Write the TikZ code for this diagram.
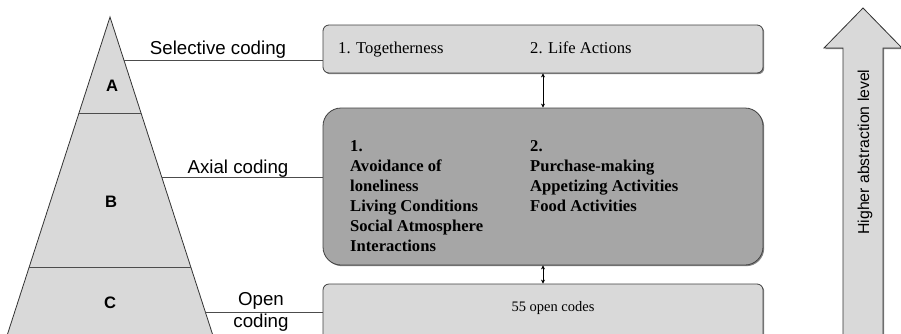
\documentclass[tikz,border=0pt]{standalone}
\usepackage{fontspec}
\setmainfont{Liberation Serif}
\setsansfont{Liberation Sans}
\usetikzlibrary{arrows.meta,shadows}

\begin{document}
\begin{tikzpicture}[x=1pt, y=-1pt,
    level/.style={font=\sffamily\fontsize{18.7}{22}\selectfont, inner sep=0pt},
    tier/.style={font=\sffamily\bfseries\fontsize{16.6}{20}\selectfont},
    codebox/.style={draw=black!75, line width=0.8pt, fill=black!15, minimum width=440pt,
      drop shadow={shadow xshift=1.2pt, shadow yshift=-1.2pt, fill=black!60, opacity=0.8}},
    item/.style={font=\fontsize{16.6}{20}\selectfont, inner sep=0pt},
    bolditem/.style={font=\bfseries\fontsize{16.6}{20}\selectfont, inner sep=0pt, align=left, anchor=north west},
    link/.style={black!70, line width=0.7pt},
    tip/.style={{Stealth[length=4pt, width=4pt]}-{Stealth[length=4pt, width=4pt]}, line width=0.6pt}]

  \useasboundingbox (0,0) rectangle (901,333);

  % pyramid
  \coordinate (top) at (110,17);
  \fill[black!15] (top) -- (4,345) -- (216,345) -- cycle;
  \draw[black!80, line width=0.8pt] (4,345) -- (top) -- (216,345);
  \draw[black!70, line width=0.7pt] (79,113) -- (141,113);
  \draw[black!70, line width=0.7pt] (29,267) -- (191,267);

  \node[tier] (tA) at (112,86)  {A};
  \node[tier] (tB) at (111,202) {B};
  \node[tier] (tC) at (110,303) {C};

  % boxes
  \node[codebox, rounded corners=6pt, minimum height=48pt] (selbox) at (543,49) {};
  \node[codebox, rounded corners=18pt, minimum height=157pt, fill=black!35] (axbox) at (543,186.5) {};
  \node[codebox, rounded corners=6pt, minimum height=76pt] (openbox) at (543,322) {};

  \node[item, anchor=base west] (sel1) at (338,53) {1. Togetherness};
  \node[item, anchor=base west] (sel2) at (530,53) {2. Life Actions};

  \node[bolditem] (ax1) at (350,140) {1.\\Avoidance of\\loneliness\\Living Conditions\\Social Atmosphere\\Interactions};
  \node[bolditem] (ax2) at (530,140) {2.\\Purchase-making\\Appetizing Activities\\Food Activities};

  \node[item, font=\fontsize{14.5}{17}\selectfont, anchor=base] (open1) at (553,311) {55 open codes};

  \draw[tip] (selbox.south) -- (axbox.north);
  \draw[tip] (axbox.south) -- (openbox.north);

  % coding levels
  \coordinate (selpt) at (124,60);
  \coordinate (axpt) at (162,177);
  \coordinate (openpt) at (205,312);
  \draw[link] (selpt) -- (selpt -| selbox.west);
  \draw[link] (axpt) -- (axpt -| axbox.west);
  \draw[link] (openpt) -- (openpt -| openbox.west);

  \node[level, anchor=base] (sellabel) at (218,54) {Selective coding};
  \node[level, anchor=base] (axlabel) at (238,173) {Axial coding};
  \node[level, anchor=north, align=center] (openlabel) at (261,292.5) {Open\\coding};

  % abstraction arrow
  \draw[black!80, fill=black!15, line width=0.8pt,
    drop shadow={shadow xshift=1.2pt, shadow yshift=-1.2pt, fill=black!60, opacity=0.8}]
    (843,345) -- (843,48) -- (824,48) -- (863,8) -- (902,48) -- (883,48) -- (883,345);
  \node[rotate=90, anchor=base, font=\sffamily\fontsize{15.8}{18}\selectfont] (abstr) at (869,152) {Higher abstraction level};
\end{tikzpicture}
\end{document}
